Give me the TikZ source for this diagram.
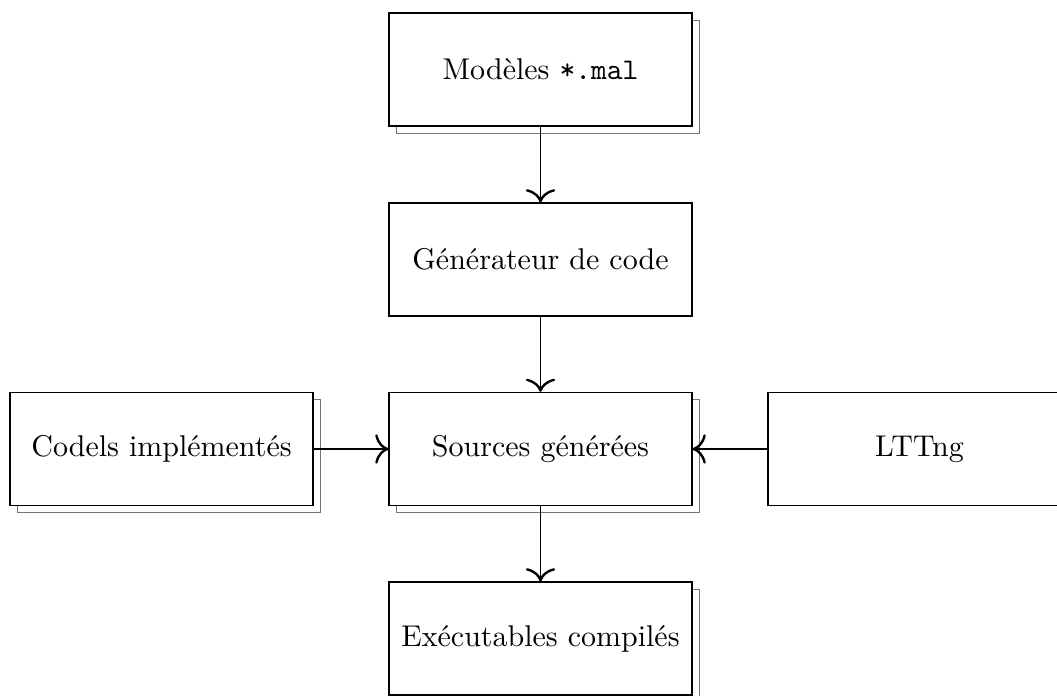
\documentclass[tikz,border=0pt]{standalone}
\usepackage{fontspec}
\usetikzlibrary{arrows.meta,shadows}
\begin{document}
\begin{tikzpicture}[x=0.33333pt,y=-0.33333pt,
  box/.style={draw=black,fill=white,line width=0.4pt,minimum width=101pt,minimum height=37.7pt,inner sep=0pt,font=\fontsize{10}{12}\selectfont},
  sbox/.style={box,copy shadow={shadow xshift=2.4pt,shadow yshift=-2.4pt,draw=black!55,fill=white,opacity=1,line width=0.4pt}},
  arr/.style={line width=0.4pt,-{To[length=4.4pt,width=9.8pt,line width=0.8pt]}}]
\useasboundingbox (0,0) rectangle (1057,695);
\node[sbox] (mod) at (540.5,69.5) {Modèles \texttt{*.mal}};
\node[box] (gen) at (540.5,259.5) {Générateur de code};
\node[sbox] (src) at (540.5,449) {Sources générées};
\node[sbox] (cod) at (161.5,449) {Codels implémentés};
\node[box] (ltt) at (919.5,449) {LTTng};
\node[sbox] (exe) at (540.5,638.5) {Exécutables compilés};
\draw[arr] (mod) -- (gen);
\draw[arr] (gen) -- (src);
\draw[arr] (cod) -- (src);
\draw[arr] (ltt) -- (src);
\draw[arr] (src) -- (exe);
\end{tikzpicture}
\end{document}
